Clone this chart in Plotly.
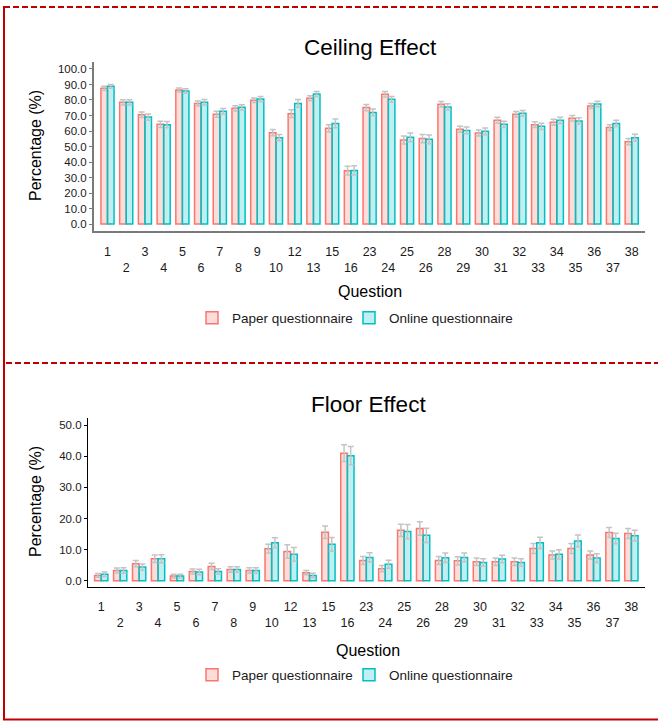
import plotly.graph_objects as go

# Question numbers shown on the x axis
questions = ["1", "2", "3", "4", "5", "6", "7", "8", "9", "10", "12", "13", "15", "16",
             "23", "24", "25", "26", "28", "29", "30", "31", "32", "33", "34", "35",
             "36", "37", "38"]

# Ceiling effect (% of respondents at the maximum score)
ceiling_paper = [87.5, 78.5, 70.5, 64.3, 86.5, 77.8, 70.8, 74.6, 79.8, 58.9, 71.2, 81.1,
                 61.7, 34.4, 75.1, 83.7, 54.2, 55.1, 77.2, 61.1, 58.7, 66.9, 70.8, 64.1,
                 65.6, 68.2, 76.1, 62.2, 53.1]
ceiling_paper_err = [1.3, 1.7, 1.8, 2.0, 1.3, 1.6, 1.9, 1.7, 1.5, 2.0, 2.5, 1.6, 2.4, 2.8,
                     2.0, 1.7, 2.6, 2.6, 1.8, 1.9, 2.0, 1.9, 1.8, 1.9, 1.9, 1.8, 1.6, 1.9,
                     2.0]
ceiling_online = [88.8, 78.5, 69.0, 64.1, 85.8, 78.5, 72.7, 75.3, 80.6, 55.7, 77.8, 83.9,
                  64.9, 34.6, 72.0, 80.4, 55.9, 54.6, 75.5, 60.4, 59.8, 64.3, 71.4, 63.0,
                  66.9, 66.5, 77.4, 64.9, 55.7]
ceiling_online_err = [1.2, 1.7, 2.0, 2.0, 1.4, 1.8, 1.8, 1.7, 1.6, 2.0, 2.5, 1.6, 2.8, 3.0,
                      2.2, 1.8, 2.8, 2.8, 2.0, 2.2, 2.2, 2.0, 1.9, 2.0, 2.0, 2.0, 1.8, 2.0,
                      2.2]

# Floor effect (% of respondents at the minimum score)
floor_paper = [1.7, 3.3, 5.5, 7.1, 1.5, 3.0, 4.6, 3.6, 3.3, 10.3, 9.4, 2.6, 15.6, 41.0,
               6.5, 3.9, 16.2, 16.8, 6.5, 6.4, 6.1, 6.1, 6.1, 10.4, 8.3, 10.4, 8.3, 15.5,
               15.2]
floor_paper_err = [0.6, 0.8, 1.0, 1.2, 0.6, 0.8, 1.0, 0.9, 0.9, 1.4, 2.2, 0.7, 2.0, 2.7,
                   1.3, 1.0, 2.0, 2.2, 1.3, 1.3, 1.2, 1.2, 1.2, 1.6, 1.3, 1.6, 1.3, 1.6,
                   1.6]
floor_online = [2.1, 3.3, 4.4, 7.1, 1.5, 2.8, 3.0, 3.6, 3.3, 12.2, 8.5, 1.7, 11.7, 40.2,
                7.5, 5.3, 15.8, 14.6, 7.4, 7.5, 5.9, 7.0, 5.9, 12.2, 8.5, 12.8, 7.3, 13.6,
                14.5]
floor_online_err = [0.7, 0.9, 1.0, 1.3, 0.6, 0.9, 0.9, 0.9, 0.9, 1.6, 2.2, 0.7, 2.2, 2.9,
                    1.5, 1.3, 2.3, 2.3, 1.5, 1.4, 1.2, 1.2, 1.2, 1.8, 1.5, 1.9, 1.4, 1.7,
                    1.7]

W, H = 658, 722
FONT = "Liberation Sans, Arial, Helvetica, sans-serif"
PAPER_LINE, PAPER_FILL = "#F8766D", "rgba(248,118,109,0.25)"
ONLINE_LINE, ONLINE_FILL = "#00BFC4", "rgba(0,191,196,0.25)"
ERR_COLOR = "#C4C4C4"
FRAME = "#C00000"


def fx(px):
    return px / W


def fy(py):
    return 1 - py / H


fig = go.Figure()


def add_panel(paper, paper_err, online, online_err, xa, ya, legends):
    for name, vals, errs, line, fill, lg in [
        ("Paper questionnaire", paper, paper_err, PAPER_LINE, PAPER_FILL, legends[0]),
        ("Online questionnaire", online, online_err, ONLINE_LINE, ONLINE_FILL, legends[1]),
    ]:
        fig.add_trace(go.Bar(
            x=questions, y=vals, name=name, showlegend=True,
            marker=dict(color=fill, line=dict(color=line, width=1.5)),
            error_y=dict(type="data", array=errs, color=ERR_COLOR, thickness=1.5, width=3),
            xaxis=xa, yaxis=ya, legend=lg,
        ))


add_panel(ceiling_paper, ceiling_paper_err, ceiling_online, ceiling_online_err,
          "x", "y", ("legend", "legend2"))
add_panel(floor_paper, floor_paper_err, floor_online, floor_online_err,
          "x2", "y2", ("legend3", "legend4"))

tick_text = [q if i % 2 == 0 else "<br>" + q for i, q in enumerate(questions)]

xcommon = dict(type="category", tickmode="array", tickvals=questions, ticktext=tick_text,
               ticks="", showgrid=False, zeroline=False, automargin=False,
               tickfont=dict(family=FONT, size=12.5, color="#1a1a1a"), ticklabelstandoff=8)
ycommon = dict(showgrid=False, zeroline=False, automargin=False, ticks="outside",
               ticklen=3, dtick=10, tick0=0, tickformat=".1f",
               tickfont=dict(family=FONT, size=11.5, color="#1a1a1a"))

legend_style = dict(orientation="h", xanchor="left", yanchor="middle",
                    font=dict(family=FONT, size=13.5, color="#1a1a1a"),
                    bgcolor="rgba(0,0,0,0)")

fig.update_layout(
    width=W, height=H,
    margin=dict(l=0, r=0, t=0, b=0),
    paper_bgcolor="white", plot_bgcolor="white",
    showlegend=True,
    barmode="group", bargap=0.3, bargroupgap=0,
    font=dict(family=FONT, color="#1a1a1a"),
    xaxis=dict(**xcommon, domain=[fx(94), fx(645)], range=[-0.72, 28.71], anchor="y",
               showline=True, linecolor="#7a7a7a", linewidth=2),
    yaxis=dict(**ycommon, domain=[fy(230.7), fy(62)], range=[-4.3, 104.5], anchor="x",
               showline=True, linecolor="#7a7a7a", linewidth=2, tickcolor="#7a7a7a"),
    xaxis2=dict(**xcommon, domain=[fx(88), fx(645)], range=[-0.70, 28.72], anchor="y2",
                showline=True, linecolor="black", linewidth=1.2),
    yaxis2=dict(**ycommon, domain=[fy(587), fy(418.3)], range=[-2.0, 52.2], anchor="x2",
                showline=True, linecolor="black", linewidth=1.2, tickcolor="black"),
    legend=dict(**legend_style, x=fx(192), y=fy(318)),
    legend2=dict(**legend_style, x=fx(349), y=fy(318)),
    legend3=dict(**legend_style, x=fx(192), y=fy(675)),
    legend4=dict(**legend_style, x=fx(349), y=fy(675)),
)

# Panel titles and axis titles
texts = [
    ("Ceiling Effect", 370, 47, 22.5, 0),
    ("Floor Effect", 368, 404, 22.5, 0),
    ("Percentage (%)", 35, 146, 16, -90),
    ("Percentage (%)", 35, 502, 16, -90),
    ("Question", 370, 291, 16, 0),
    ("Question", 368, 650, 16, 0),
]
for t, x, y, s, ang in texts:
    fig.add_annotation(text=t, x=fx(x), y=fy(y), xref="paper", yref="paper",
                       xanchor="center", yanchor="middle", showarrow=False,
                       textangle=ang, font=dict(family=FONT, size=s, color="black"))

# Red frame: dashed top edge and divider, solid left and bottom edges
frame_lines = [
    dict(x0=4, y0=7, x1=658, y1=7, dash="6px,3px"),
    dict(x0=6, y0=363, x1=658, y1=363, dash="6px,3px"),
    dict(x0=4, y0=6, x1=4, y1=720, dash="solid"),
    dict(x0=3, y0=719.5, x1=658, y1=719.5, dash="solid"),
]
for ln in frame_lines:
    fig.add_shape(type="line", xref="paper", yref="paper",
                  x0=fx(ln["x0"]), y0=fy(ln["y0"]), x1=fx(ln["x1"]), y1=fy(ln["y1"]),
                  line=dict(color=FRAME, width=2, dash=ln["dash"]))

fig.write_html("out.html")
